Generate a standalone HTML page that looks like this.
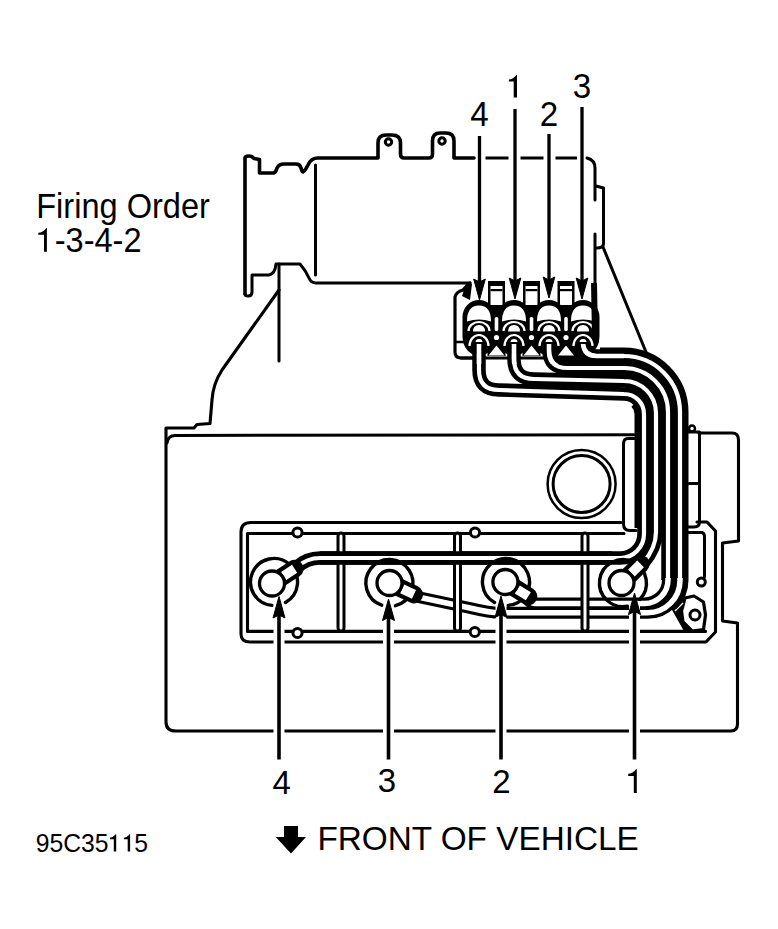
<!DOCTYPE html>
<html><head><meta charset="utf-8"><style>
html,body{margin:0;padding:0;background:#fff;width:778px;height:929px;overflow:hidden}
svg{position:absolute;left:0;top:0;display:block}
</style></head><body>
<svg width="778" height="929" viewBox="0 0 778 929">
<rect width="778" height="929" fill="#fff"/>
<path fill="none" stroke="#000" stroke-linejoin="round" stroke-linecap="round" stroke-width="3.6" d="M245 294 L245 158 Q245 156 249 156 Q252 156 254 158.5 L259.5 159.5 L259.5 173 L274 173 Q276 172 277 168 Q279 164 284 164 L296 164 Q300 164 301 168 Q302 172 303 172 Q305 171 308 165 Q311 158 318 158 L378 158 L378 143 Q378 135 386 135 L392 135 Q400.5 135 400.5 143 L400.5 154 Q400.5 158 404 158 L429 158 Q432.5 158 432.5 154 L432.5 141 Q432.5 133 440 133 L446 133 Q454 133 454 141 L454 158 L474 158"/>
<circle cx="388.5" cy="142" r="3.2" fill="none" stroke="#000" stroke-linejoin="round" stroke-linecap="round" stroke-width="3"/>
<circle cx="442" cy="141" r="3.2" fill="none" stroke="#000" stroke-linejoin="round" stroke-linecap="round" stroke-width="3"/>
<line x1="485.5" y1="158" x2="508.5" y2="158" stroke="#000" stroke-width="3"/>
<line x1="520.5" y1="158" x2="543.5" y2="158" stroke="#000" stroke-width="3"/>
<line x1="555.5" y1="158" x2="577" y2="158" stroke="#000" stroke-width="3"/>
<path fill="none" stroke="#000" stroke-linejoin="round" stroke-linecap="round" stroke-width="3" d="M587 158 Q595 160 595 168 L595 200"/>
<path fill="none" stroke="#000" stroke-linejoin="round" stroke-linecap="round" stroke-width="3" d="M595 234 L595 343"/>
<path fill="none" stroke="#000" stroke-linejoin="round" stroke-linecap="round" stroke-width="3" d="M596 186 L603.5 188 L603.5 244 Q603 248 597 248"/>
<path fill="none" stroke="#000" stroke-linejoin="round" stroke-linecap="round" stroke-width="3" d="M603 247 L646 352"/>
<path fill="none" stroke="#000" stroke-linejoin="round" stroke-linecap="round" stroke-width="3" d="M315.5 165 L315.5 275"/>
<path fill="none" stroke="#000" stroke-linejoin="round" stroke-linecap="round" stroke-width="3" d="M245 294 Q245 296 248 296 Q252 296 252 292 L252 275 L269 275 Q275 274 276 264 L300 264 Q306 271 309 278 Q311 283 316 283 L470 283"/>
<path fill="none" stroke="#000" stroke-linejoin="round" stroke-linecap="round" stroke-width="3" d="M279 264 L279 361"/>
<path fill="none" stroke="#000" stroke-linejoin="round" stroke-linecap="round" stroke-width="3.1" d="M279 290 L222 370 Q213 384 212 400 L210 423.5 L197 424.5 L194 428 L166 428 L166 722 Q166 731 176 731 L731 731 Q737.5 731 737.5 724 L737.5 623 L722.5 621 L722.5 543 L738.5 541 L738.5 440 Q738.5 433 732 433 L699 433"/>
<path fill="none" stroke="#000" stroke-linejoin="round" stroke-linecap="round" stroke-width="3" d="M167 443 Q168 435.4 175 435.4 L634 434.8"/>
<path fill="none" stroke="#000" stroke-linejoin="round" stroke-linecap="round" stroke-width="3" d="M634 438.5 L628 438.5 Q623.5 438.5 623.5 444 L623.5 524 Q623.5 530.5 630 530.5 L636 530.5"/>
<path fill="none" stroke="#000" stroke-linejoin="round" stroke-linecap="round" stroke-width="3" d="M688 432 L699.5 432 L699.5 522 Q699.5 527 694 527 L688 527 M689 483.5 L699.5 483.5"/>
<circle cx="692" cy="428.5" r="3" fill="#fff" stroke="#000" stroke-width="2.5"/>
<circle cx="581.6" cy="484" r="34" fill="none" stroke="#000" stroke-linejoin="round" stroke-linecap="round" stroke-width="2.5"/>
<circle cx="581.6" cy="484" r="28.5" fill="none" stroke="#000" stroke-linejoin="round" stroke-linecap="round" stroke-width="3"/>
<path fill="none" stroke="#000" stroke-linejoin="round" stroke-linecap="round" stroke-width="3.1" d="M621 522.5 L251 522.5 Q241 522.5 241 532 L241 634 Q241 642 250 642 L706 642 L715.5 632 L715.5 531 L707 522 L697 522"/>
<path fill="none" stroke="#000" stroke-linejoin="round" stroke-linecap="round" stroke-width="3.1" d="M624 533.5 L247.5 533.5 L247.5 631.4 L705.5 631.4"/>
<path fill="none" stroke="#000" stroke-linejoin="round" stroke-linecap="round" stroke-width="3" d="M688 532.5 L702 532.5 Q704.5 533 704.5 537 L704.5 577"/>
<circle cx="701.3" cy="582" r="4" fill="#fff" stroke="#000" stroke-width="3"/>
<circle cx="297.5" cy="532.5" r="4.6" fill="#fff" stroke="#000" stroke-width="3"/>
<circle cx="297.5" cy="633" r="4.6" fill="#fff" stroke="#000" stroke-width="3"/>
<circle cx="475" cy="532.5" r="4.6" fill="#fff" stroke="#000" stroke-width="3"/>
<circle cx="474.8" cy="632" r="4.6" fill="#fff" stroke="#000" stroke-width="3"/>
<path d="M667 601 L680 595 L696 630 L685 633 Z" fill="#000"/>
<polygon points="685,598 694,596 703.5,602 705.5,615 703.5,629.5 692,631 683,622 681.5,611" fill="#fff" stroke="#000" stroke-width="3.2" stroke-linejoin="round"/>
<circle cx="695" cy="615" r="5" fill="#fff" stroke="#000" stroke-width="3"/>
<line x1="675" y1="611" x2="683" y2="603" stroke="#fff" stroke-width="1.5"/>
<path fill="none" stroke="#000" stroke-linejoin="round" stroke-linecap="round" stroke-width="3.2" d="M461 358 L590 358"/>
<rect x="553" y="350" width="45" height="12" fill="#000"/>
<path d="M600 356 L624 356 A56 56 0 0 1 680 412 L680 580 A32.5 32.5 0 0 1 670.5 603" fill="none" stroke="#000" stroke-width="17"/>
<path d="M638.1 399.9 A20 20 0 0 1 644 414 L644 528" fill="none" stroke="#000" stroke-width="19"/>
<path d="M479 342 L479 370 Q479 390 499 390 L624 394 A20 20 0 0 1 644 414 L644 534 A24 24 0 0 1 620 558 L320 558 Q307 558 297 567" fill="none" stroke="#000" stroke-width="13.5" stroke-linecap="butt" stroke-linejoin="round"/>
<path d="M514 342 L514 359 Q514 379 534 379 L624 381 A32 32 0 0 1 656 413 L656 532 Q656 548 643 563" fill="none" stroke="#000" stroke-width="13.5" stroke-linecap="butt" stroke-linejoin="round"/>
<path d="M549 342 L549 350 Q549 368 567 368 L624 368 A44 44 0 0 1 668 412 L668 580" fill="none" stroke="#000" stroke-width="13.5" stroke-linecap="butt" stroke-linejoin="round"/>
<path d="M583 342 Q583 356 597 356 L624 356 A56 56 0 0 1 680 412 L680 580" fill="none" stroke="#000" stroke-width="13.5" stroke-linecap="butt" stroke-linejoin="round"/>
<path d="M668 578 L668 580 A23.5 23.5 0 0 1 644.5 603.5 L535 603.5 Q530 603.5 527 598" fill="none" stroke="#000" stroke-width="12" stroke-linecap="butt" stroke-linejoin="round"/>
<path d="M680 578 L680 580 A32.5 32.5 0 0 1 647.5 612.8 L500 612.8 Q490 612.8 470 608 L418 597" fill="none" stroke="#000" stroke-width="12" stroke-linecap="butt" stroke-linejoin="round"/>
<path d="M479 342 L479 370 Q479 390 499 390 L624 394 A20 20 0 0 1 644 414 L644 534 A24 24 0 0 1 620 558 L320 558 Q307 558 297 567" fill="none" stroke="#fff" stroke-width="4.2" stroke-linecap="butt" stroke-linejoin="round"/>
<path d="M514 342 L514 359 Q514 379 534 379 L624 381 A32 32 0 0 1 656 413 L656 532 Q656 548 643 563" fill="none" stroke="#fff" stroke-width="4.2" stroke-linecap="butt" stroke-linejoin="round"/>
<path d="M549 342 L549 350 Q549 368 567 368 L624 368 A44 44 0 0 1 668 412 L668 580" fill="none" stroke="#fff" stroke-width="4.2" stroke-linecap="butt" stroke-linejoin="round"/>
<path d="M583 342 Q583 356 597 356 L624 356 A56 56 0 0 1 680 412 L680 580" fill="none" stroke="#fff" stroke-width="4.2" stroke-linecap="butt" stroke-linejoin="round"/>
<path d="M668 578 L668 580 A23.5 23.5 0 0 1 644.5 603.5 L535 603.5 Q530 603.5 527 598" fill="none" stroke="#fff" stroke-width="5.5" stroke-linecap="butt" stroke-linejoin="round"/>
<path d="M680 578 L680 580 A32.5 32.5 0 0 1 647.5 612.8 L500 612.8 Q490 612.8 470 608 L418 597" fill="none" stroke="#fff" stroke-width="5.5" stroke-linecap="butt" stroke-linejoin="round"/>
<rect x="338" y="533" width="6" height="98" rx="3" fill="#fff" stroke="#000" stroke-width="3"/>
<rect x="454.5" y="533" width="6" height="98" rx="3" fill="#fff" stroke="#000" stroke-width="3"/>
<rect x="582" y="533" width="6" height="98" rx="3" fill="#fff" stroke="#000" stroke-width="3"/>
<path d="M612 558 L320 558" fill="none" stroke="#000" stroke-width="13.5" stroke-linecap="butt" stroke-linejoin="round"/>
<path d="M612 558 L320 558" fill="none" stroke="#fff" stroke-width="4.2" stroke-linecap="butt" stroke-linejoin="round"/>
<path fill="none" stroke="#000" stroke-linejoin="round" stroke-linecap="round" stroke-width="3.2" d="M470 283 L463 290 Q456 292 455 297 L455 352 Q455 358 461 358 L472 358"/>
<path fill="none" stroke="#000" stroke-linejoin="round" stroke-linecap="round" stroke-width="2.5" d="M456 342 L468 342"/>
<path d="M466 284 L472 284 L470 300 L462 296 Z" fill="#000"/>
<rect x="488.0" y="281" width="17" height="28" fill="#000"/>
<path d="M490.5 309 L490.5 286 L502.5 286 L502.5 309 Z" fill="#fff"/>
<rect x="490.5" y="289" width="12" height="2.2" fill="#000"/>
<rect x="523.0" y="281" width="17" height="28" fill="#000"/>
<path d="M525.5 309 L525.5 286 L537.5 286 L537.5 309 Z" fill="#fff"/>
<rect x="525.5" y="289" width="12" height="2.2" fill="#000"/>
<rect x="557.5" y="281" width="17" height="28" fill="#000"/>
<path d="M560 309 L560 286 L572 286 L572 309 Z" fill="#fff"/>
<rect x="560" y="289" width="12" height="2.2" fill="#000"/>
<rect x="487.5" y="305" width="18" height="51" fill="#000"/>
<rect x="522.5" y="305" width="18" height="51" fill="#000"/>
<rect x="557" y="305" width="18" height="51" fill="#000"/>
<path d="M472 354 Q463 349 462.5 337 L462.5 317 A16.5 17 0 0 1 495.5 317 L495.5 337 Q495 349 486 354 Z" fill="#000"/>
<path d="M507 354 Q498 349 497.5 337 L497.5 317 A16.5 17 0 0 1 530.5 317 L530.5 337 Q530 349 521 354 Z" fill="#000"/>
<path d="M542 354 Q533 349 532.5 337 L532.5 317 A16.5 17 0 0 1 565.5 317 L565.5 337 Q565 349 556 354 Z" fill="#000"/>
<path d="M576 354 Q567 349 566.5 337 L566.5 317 A16.5 17 0 0 1 599.5 317 L599.5 337 Q599 349 590 354 Z" fill="#000"/>
<path d="M467 321.5 Q467 305.5 479 305.5 Q491 305.5 491 321.5 Q479 317.5 467 321.5 Z" fill="#fff"/>
<path d="M468.5 331 A10.5 9 0 0 1 489.5 331" fill="none" stroke="#fff" stroke-width="2.2"/>
<path d="M473 331.5 Q473 325 479 325 Q485 325 485 331.5 Z" fill="#fff"/>
<path d="M469.5 346 A9.5 11 0 0 1 488.5 346" fill="none" stroke="#fff" stroke-width="2.2"/>
<path d="M475.5 342 Q475.5 339 479 339 Q482.5 339 482.5 342 Z" fill="#fff"/>
<path d="M502 321.5 Q502 305.5 514 305.5 Q526 305.5 526 321.5 Q514 317.5 502 321.5 Z" fill="#fff"/>
<path d="M503.5 331 A10.5 9 0 0 1 524.5 331" fill="none" stroke="#fff" stroke-width="2.2"/>
<path d="M508 331.5 Q508 325 514 325 Q520 325 520 331.5 Z" fill="#fff"/>
<path d="M504.5 346 A9.5 11 0 0 1 523.5 346" fill="none" stroke="#fff" stroke-width="2.2"/>
<path d="M510.5 342 Q510.5 339 514 339 Q517.5 339 517.5 342 Z" fill="#fff"/>
<path d="M537 321.5 Q537 305.5 549 305.5 Q561 305.5 561 321.5 Q549 317.5 537 321.5 Z" fill="#fff"/>
<path d="M538.5 331 A10.5 9 0 0 1 559.5 331" fill="none" stroke="#fff" stroke-width="2.2"/>
<path d="M543 331.5 Q543 325 549 325 Q555 325 555 331.5 Z" fill="#fff"/>
<path d="M539.5 346 A9.5 11 0 0 1 558.5 346" fill="none" stroke="#fff" stroke-width="2.2"/>
<path d="M545.5 342 Q545.5 339 549 339 Q552.5 339 552.5 342 Z" fill="#fff"/>
<path d="M571 321.5 Q571 305.5 583 305.5 Q595 305.5 595 321.5 Q583 317.5 571 321.5 Z" fill="#fff"/>
<path d="M572.5 331 A10.5 9 0 0 1 593.5 331" fill="none" stroke="#fff" stroke-width="2.2"/>
<path d="M577 331.5 Q577 325 583 325 Q589 325 589 331.5 Z" fill="#fff"/>
<path d="M573.5 346 A9.5 11 0 0 1 592.5 346" fill="none" stroke="#fff" stroke-width="2.2"/>
<path d="M579.5 342 Q579.5 339 583 339 Q586.5 339 586.5 342 Z" fill="#fff"/>
<rect x="494.7" y="317" width="3.6" height="14" rx="1.5" fill="#fff"/>
<circle cx="496.5" cy="337.5" r="2.6" fill="#fff"/>
<path d="M496.5 345.5 L488.5 355.5 L504.5 355.5 Z" fill="#fff"/>
<rect x="529.7" y="317" width="3.6" height="14" rx="1.5" fill="#fff"/>
<circle cx="531.5" cy="337.5" r="2.6" fill="#fff"/>
<path d="M531.5 345.5 L523.5 355.5 L539.5 355.5 Z" fill="#fff"/>
<rect x="564.2" y="317" width="3.6" height="14" rx="1.5" fill="#fff"/>
<circle cx="566" cy="337.5" r="2.6" fill="#fff"/>
<path d="M566 345.5 L558 355.5 L574 355.5 Z" fill="#fff"/>
<path d="M591 283 L597 283 L598 336 L592 336 Z" fill="#000"/>
<clipPath id="cw"><rect x="440" y="344" width="200" height="20"/></clipPath>
<g clip-path="url(#cw)">
<path d="M479 342 L479 370 Q479 390 499 390" fill="none" stroke="#fff" stroke-width="4.6"/>
<path d="M514 342 L514 359 Q514 379 534 379" fill="none" stroke="#fff" stroke-width="4.6"/>
<path d="M549 342 L549 350 Q549 368 567 368" fill="none" stroke="#fff" stroke-width="4.6"/>
<path d="M583 342 Q583 356 597 356 L624 356" fill="none" stroke="#fff" stroke-width="4.6"/>
</g>
<path d="M272.1 605.4 A23.5 23.5 0 1 1 285.5 602.5" fill="none" stroke="#000" stroke-linejoin="round" stroke-linecap="round" stroke-width="3.4"/>
<line x1="272" y1="583.5" x2="294.6" y2="568.8" stroke="#000" stroke-width="18" stroke-linecap="round"/>
<line x1="283.7" y1="575.9" x2="294.6" y2="568.8" stroke="#fff" stroke-width="9.5" stroke-linecap="butt"/>
<circle cx="272" cy="583.5" r="12.5" fill="#fff" stroke="#000" stroke-width="3.3"/>
<path d="M381.7 605.2 A23.5 23.5 0 1 1 395.4 605.7" fill="none" stroke="#000" stroke-linejoin="round" stroke-linecap="round" stroke-width="3.4"/>
<line x1="389.5" y1="583" x2="414.0" y2="594.4" stroke="#000" stroke-width="18" stroke-linecap="round"/>
<line x1="402.2" y1="588.9" x2="414.0" y2="594.4" stroke="#fff" stroke-width="9.5" stroke-linecap="butt"/>
<circle cx="389.5" cy="583" r="12.5" fill="#fff" stroke="#000" stroke-width="3.3"/>
<path d="M494.5 602.5 A23.5 23.5 0 1 1 507.9 605.4" fill="none" stroke="#000" stroke-linejoin="round" stroke-linecap="round" stroke-width="3.4"/>
<line x1="505.4" y1="582" x2="528.3" y2="596.3" stroke="#000" stroke-width="18" stroke-linecap="round"/>
<line x1="517.3" y1="589.4" x2="528.3" y2="596.3" stroke="#fff" stroke-width="9.5" stroke-linecap="butt"/>
<circle cx="505.4" cy="582" r="12.5" fill="#fff" stroke="#000" stroke-width="3.3"/>
<path d="M627.4 606.1 A23.5 23.5 0 1 1 639.6 599.6" fill="none" stroke="#000" stroke-linejoin="round" stroke-linecap="round" stroke-width="3.4"/>
<line x1="621.5" y1="583" x2="640.6" y2="563.9" stroke="#000" stroke-width="18" stroke-linecap="round"/>
<line x1="631.4" y1="573.1" x2="640.6" y2="563.9" stroke="#fff" stroke-width="9.5" stroke-linecap="butt"/>
<circle cx="621.5" cy="583" r="12.5" fill="#fff" stroke="#000" stroke-width="3.3"/>
<line x1="479.5" y1="136" x2="479.5" y2="282" stroke="#000" stroke-width="3.3"/>
<path d="M479.5 300 L473.7 279 L479.5 282 L485.3 279 Z" fill="#000" stroke="#000" stroke-width="1" stroke-linejoin="miter"/>
<line x1="515" y1="109" x2="515" y2="281" stroke="#000" stroke-width="3.3"/>
<path d="M515 299 L509.2 278 L515 281 L520.8 278 Z" fill="#000" stroke="#000" stroke-width="1" stroke-linejoin="miter"/>
<line x1="549" y1="134" x2="549" y2="280" stroke="#000" stroke-width="3.3"/>
<path d="M549 298 L543.2 277 L549 280 L554.8 277 Z" fill="#000" stroke="#000" stroke-width="1" stroke-linejoin="miter"/>
<line x1="582" y1="107" x2="582" y2="281" stroke="#000" stroke-width="3.3"/>
<path d="M582 299 L576.2 278 L582 281 L587.8 278 Z" fill="#000" stroke="#000" stroke-width="1" stroke-linejoin="miter"/>
<line x1="279" y1="604.5" x2="279" y2="740" stroke="#fff" stroke-width="11"/>
<line x1="388.5" y1="607" x2="388.5" y2="740" stroke="#fff" stroke-width="11"/>
<line x1="501" y1="604" x2="501" y2="740" stroke="#fff" stroke-width="11"/>
<line x1="634.5" y1="601" x2="634.5" y2="740" stroke="#fff" stroke-width="11"/>
<line x1="279" y1="759.5" x2="279" y2="615.0" stroke="#000" stroke-width="3.6"/>
<path d="M279 596.5 L273 618.0 L279 615.0 L285 618.0 Z" fill="#000" stroke="#000" stroke-width="1" stroke-linejoin="miter"/>
<line x1="388.5" y1="759.5" x2="388.5" y2="617.5" stroke="#000" stroke-width="3.6"/>
<path d="M388.5 599 L382.5 620.5 L388.5 617.5 L394.5 620.5 Z" fill="#000" stroke="#000" stroke-width="1" stroke-linejoin="miter"/>
<line x1="501" y1="759.5" x2="501" y2="614.5" stroke="#000" stroke-width="3.6"/>
<path d="M501 596 L495 617.5 L501 614.5 L507 617.5 Z" fill="#000" stroke="#000" stroke-width="1" stroke-linejoin="miter"/>
<line x1="634.5" y1="759.5" x2="634.5" y2="611.5" stroke="#000" stroke-width="3.6"/>
<path d="M634.5 593 L628.5 614.5 L634.5 611.5 L640.5 614.5 Z" fill="#000" stroke="#000" stroke-width="1" stroke-linejoin="miter"/>
<text font-family="&quot;Liberation Sans&quot;, sans-serif" fill="#000" font-size="34.5" transform="translate(36.2 217.8) scale(0.944 1)">Firing Order</text>
<text font-family="&quot;Liberation Sans&quot;, sans-serif" fill="#000" font-size="34.5" transform="translate(36.6 251.8) scale(0.944 1)"><tspan fill="#fff">1</tspan>-3-4-2</text>
<path d="M46.32 227.9 L46.9 227.9 L46.9 251.8 L44.00 251.8 L44.00 234.83 L38.30 234.83 L38.30 232.68 Q43.00 232.68 46.32 227.9 Z" fill="#000"/>
<text font-family="&quot;Liberation Sans&quot;, sans-serif" fill="#000" font-size="34.5" text-anchor="middle" transform="translate(479.5 125.8) scale(0.96 1)">4</text>
<text font-family="&quot;Liberation Sans&quot;, sans-serif" fill="#000" font-size="34.5" text-anchor="middle" transform="translate(549 126) scale(0.96 1)">2</text>
<text font-family="&quot;Liberation Sans&quot;, sans-serif" fill="#000" font-size="34.5" text-anchor="middle" transform="translate(582 98.2) scale(0.96 1)">3</text>
<path d="M516.34 75 L517 75 L517 97.6 L513.70 97.6 L513.70 81.55 L508.86 81.55 L508.86 79.52 Q512.70 79.52 516.34 75 Z" fill="#000"/>
<text font-family="&quot;Liberation Sans&quot;, sans-serif" fill="#000" font-size="33" text-anchor="middle" x="281.6" y="793.9">4</text>
<text font-family="&quot;Liberation Sans&quot;, sans-serif" fill="#000" font-size="33" text-anchor="middle" x="387" y="792.4">3</text>
<text font-family="&quot;Liberation Sans&quot;, sans-serif" fill="#000" font-size="33" text-anchor="middle" x="501.5" y="792.8">2</text>
<path d="M636.20 769 L636.8 769 L636.8 792.9 L633.80 792.9 L633.80 775.93 L628.20 775.93 L628.20 773.78 Q632.80 773.78 636.20 769 Z" fill="#000"/>
<text font-family="&quot;Liberation Sans&quot;, sans-serif" fill="#000" font-size="25" transform="translate(35.7 851.5) scale(0.99 1)">95C35<tspan fill="#fff">11</tspan>5</text>
<path d="M115.72 834.2 L116.2 834.2 L116.2 851.6 L113.80 851.6 L113.80 839.25 L109.94 839.25 L109.94 837.68 Q112.80 837.68 115.72 834.2 Z" fill="#000"/>
<path d="M129.62 834.2 L130.1 834.2 L130.1 851.6 L127.70 851.6 L127.70 839.25 L123.84 839.25 L123.84 837.68 Q126.70 837.68 129.62 834.2 Z" fill="#000"/>
<text font-family="&quot;Liberation Sans&quot;, sans-serif" fill="#000" font-size="33.3" transform="translate(317.4 850.2) scale(1.0 1)">FRONT OF VEHICLE</text>
<path d="M284 826 L298 826 L298 837 L306 837 L291 853.6 L275.7 837 L284 837 Z" fill="#000"/>
</svg>
</body></html>
